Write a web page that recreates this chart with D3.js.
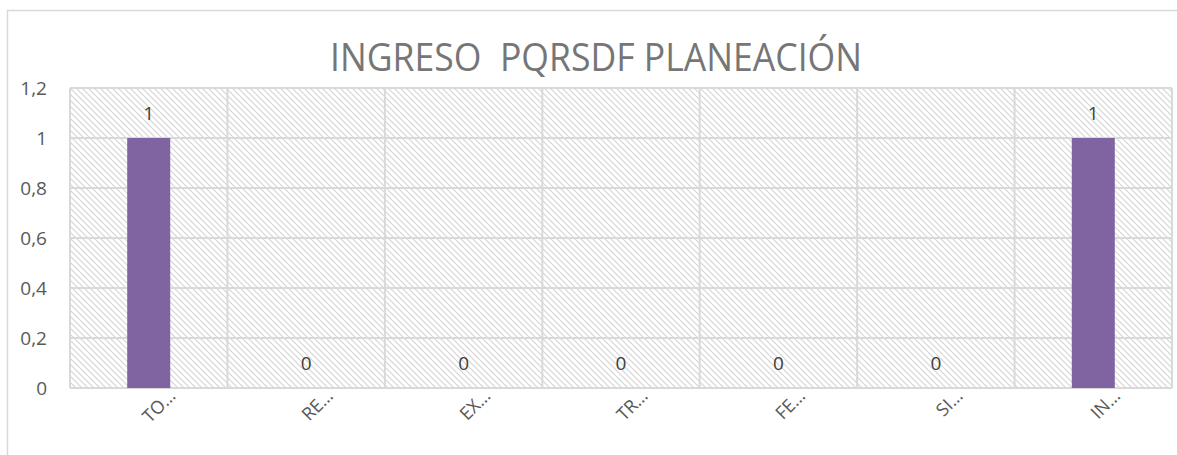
<!DOCTYPE html>
<html><head><meta charset="utf-8">
<script src="https://cdn.jsdelivr.net/npm/d3@7"></script>
<style>body{margin:0;background:#fff;}svg{display:block;font-family:"Open Sans","Noto Sans",sans-serif;}</style>
</head><body><svg id="c" width="1177" height="455"></svg>
<script>
const categories = ["TO…","RE…","EX…","TR…","FE…","SI…","IN…"];
const values = [1,0,0,0,0,0,1];
const yTicks = [0,0.2,0.4,0.6,0.8,1,1.2];
const yTickLabels = ["0","0,2","0,4","0,6","0,8","1","1,2"];
const title = "INGRESO  PQRSDF PLANEACIÓN";

const svg = d3.select("#c");
const W = 1177, H = 455;
const m = {left:70, right:5, top:88, bottom:67};
const x = d3.scaleBand().domain(categories).range([m.left, W - m.right]).paddingInner(0).paddingOuter(0);
const y = d3.scaleLinear().domain([0,1.2]).range([H - m.bottom, m.top]);

// outer chart border
svg.append("rect").attr("x",7.5).attr("y",10.5).attr("width",1180).attr("height",460)
  .attr("fill","#fff").attr("stroke","#d9d9d9").attr("stroke-width",1.5);

const defs = svg.append("defs");
const pat = defs.append("pattern").attr("id","hatch").attr("patternUnits","userSpaceOnUse")
  .attr("width",6).attr("height",6);
pat.append("rect").attr("width",6).attr("height",6).attr("fill","#fff");
pat.append("path").attr("d","M-1,-1 L7,7 M-1,5 L1,7 M5,-1 L7,1").attr("stroke","#d4d4d4").attr("stroke-width",1.1);

// plot area hatch
svg.append("rect").attr("x",m.left).attr("y",m.top).attr("width",W-m.right-m.left).attr("height",H-m.bottom-m.top)
  .attr("fill","url(#hatch)");

// horizontal gridlines
svg.append("g").selectAll("line").data(yTicks).join("line")
  .attr("x1",m.left).attr("x2",W-m.right).attr("y1",d=>y(d)).attr("y2",d=>y(d))
  .attr("stroke","#d9d9d9").attr("stroke-width",2);
// vertical gridlines (category boundaries)
const bounds = categories.map(c=>x(c)).concat([x(categories[categories.length-1])+x.bandwidth()]);
svg.append("g").selectAll("line").data(bounds).join("line")
  .attr("x1",d=>d).attr("x2",d=>d).attr("y1",m.top).attr("y2",H-m.bottom)
  .attr("stroke","#d9d9d9").attr("stroke-width",2);

// bars
const bw = 43;
svg.append("g").selectAll("rect").data(values).join("rect")
  .attr("x",(d,i)=>x(categories[i])+x.bandwidth()/2-bw/2)
  .attr("y",d=>y(d)).attr("width",bw).attr("height",d=>y(0)-y(d))
  .attr("fill","#8064a2");

// data labels
svg.append("g").selectAll("text").data(values).join("text")
  .attr("x",(d,i)=>x(categories[i])+x.bandwidth()/2)
  .attr("y",d=>y(d)-18)
  .attr("text-anchor","middle").attr("font-size",19).attr("fill","#404040")
  .text(d=>d);

// y axis labels
svg.append("g").selectAll("text").data(yTicks).join("text")
  .attr("x",47).attr("y",d=>y(d)+7).attr("text-anchor","end")
  .attr("font-size",19).attr("fill","#595959")
  .text((d,i)=>yTickLabels[i]);

// x axis labels
svg.append("g").selectAll("text").data(categories).join("text")
  .attr("transform",c=>`translate(${x(c)+x.bandwidth()/2+28},${H-m.bottom+9}) rotate(-45)`)
  .attr("text-anchor","end").attr("font-size",18).attr("fill","#595959")
  .text(c=>c);

// title
svg.append("text").attr("x",596).attr("y",71).attr("text-anchor","middle")
  .attr("font-size",38).attr("fill","#767676").attr("xml:space","preserve")
  .attr("textLength",532).attr("lengthAdjust","spacingAndGlyphs")
  .style("white-space","pre").text(title);
</script></body></html>
